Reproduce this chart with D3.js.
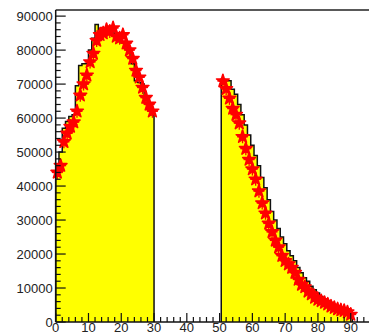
<!DOCTYPE html>
<html>
<head>
<meta charset="utf-8">
<script src="https://cdn.jsdelivr.net/npm/d3@7"></script>
<style>
  body { margin: 0; background: #fff; }
  svg { display: block; }
  text { font-family: "Liberation Sans", Arial, sans-serif; font-size: 13px; fill: #222; }
</style>
</head>
<body>
<svg></svg>
<script>
// Chart size
var width = 369;
var height = 335;

// Histogram (MC) contents, bin width 1
var mcLeftStart = 0;
var mcLeft = [46500, 50000, 57000, 59000, 60500, 61000, 69500, 75500, 76000, 76000,
  80000, 83500, 87500, 85500, 85000, 85500, 85500, 85000, 84000, 82500,
  82000, 81000, 80500, 76000, 71000, 70500, 70000, 66500, 63000, 61000];

var mcRightStart = 50.5;
var mcRight = [71500, 71000, 71000, 68500, 67000, 64000, 61000, 58000, 55000, 52000,
  49000, 46000, 42500, 39500, 36000, 32500, 30000, 27500, 25000, 23000,
  21000, 19500, 18000, 16000, 14500, 13000, 12000, 10500, 9500, 8500,
  7500, 6800, 6000, 5500, 5000, 4500, 4000, 3600, 3200, 2800];

// Data points, one per bin
var dataLeft = [44000, 46000, 53000, 55500, 57500, 58800, 62000, 66700, 70000, 72600,
  76500, 79000, 82800, 84500, 85000, 86000, 85500, 86500, 84000, 83500,
  84500, 82000, 80000, 77500, 74000, 72000, 69000, 66000, 64000, 62000];

var dataRight = [70900, 68600, 65800, 62800, 61000, 58500, 54500, 51000, 47800, 45000,
  42000, 38500, 35000, 32000, 29000, 26500, 24000, 22000, 19500, 18000,
  17000, 16000, 14500, 12500, 11000, 10300, 9000, 8200, 7200, 6600,
  6200, 5700, 5200, 4600, 4200, 3800, 3500, 3300, 2900, 2200];

// Axis ticks
var xLabels = [0, 10, 20, 30, 40, 50, 60, 70, 80, 90];
var yLabels = [0, 10000, 20000, 30000, 40000, 50000, 60000, 70000, 80000, 90000];

var svg = d3.select("svg")
  .attr("width", width)
  .attr("height", height);

var x = d3.scaleLinear().domain([0, 100]).range([55.7, 383.5]);
var y = d3.scaleLinear().domain([0, 91800]).range([322, 10]);

// Build a step outline for a histogram part
function stepPath(start, values) {
  var p = d3.path();
  p.moveTo(x(start), y(0));
  values.forEach(function(v, i) {
    p.lineTo(x(start + i), y(v));
    p.lineTo(x(start + i + 1), y(v));
  });
  p.lineTo(x(start + values.length), y(0));
  return p.toString();
}

[[mcLeftStart, mcLeft], [mcRightStart, mcRight]].forEach(function(part) {
  svg.append("path")
    .attr("d", stepPath(part[0], part[1]))
    .attr("fill", "#ffff00")
    .attr("stroke", "#111")
    .attr("stroke-width", 1.5)
    .attr("stroke-linejoin", "miter");
});

// Data points with small error crosses and star markers
var points = dataLeft.map(function(v, i) { return { x: mcLeftStart + i + 0.5, v: v }; })
  .concat(dataRight.map(function(v, i) { return { x: mcRightStart + i + 0.5, v: v }; }));

var pts = svg.append("g").selectAll("g")
  .data(points)
  .enter()
  .append("g")
  .attr("transform", function(d) { return "translate(" + x(d.x) + "," + y(d.v) + ")"; });

pts.append("line")
  .attr("x1", -5.5).attr("x2", 5.5)
  .attr("stroke", "red").attr("stroke-width", 1.3);
pts.append("line")
  .attr("y1", -6.5).attr("y2", 6.5)
  .attr("stroke", "red").attr("stroke-width", 1.3);
pts.append("path")
  .attr("d", d3.symbol().type(d3.symbolStar).size(50))
  .attr("fill", "red")
  .attr("stroke", "red")
  .attr("stroke-width", 1.6)
  .attr("stroke-linejoin", "round");

// Frame top
svg.append("line")
  .attr("x1", x(0)).attr("x2", width)
  .attr("y1", y.range()[1]).attr("y2", y.range()[1])
  .attr("stroke", "#222").attr("stroke-width", 1.5);

// Y axis: ticks point into the plot
var yAxis = svg.append("g");
yAxis.append("line")
  .attr("x1", x(0)).attr("x2", x(0))
  .attr("y1", y(0)).attr("y2", y.range()[1])
  .attr("stroke", "#111").attr("stroke-width", 1.5);
yAxis.selectAll(".ymin")
  .data(d3.range(0, 91800, 2000))
  .enter()
  .append("line")
  .attr("x1", x(0))
  .attr("x2", function(d) { return x(0) + (d % 10000 === 0 ? 10 : 5); })
  .attr("y1", function(d) { return y(d); })
  .attr("y2", function(d) { return y(d); })
  .attr("stroke", "#111").attr("stroke-width", 1.2);
yAxis.selectAll("text")
  .data(yLabels)
  .enter()
  .append("text")
  .attr("x", x(0) - 3)
  .attr("y", function(d) { return y(d); })
  .attr("dy", "0.36em")
  .attr("text-anchor", "end")
  .text(function(d) { return d; });

// X axis: ticks point up into the plot
var xAxis = svg.append("g");
xAxis.append("line")
  .attr("x1", x(0)).attr("x2", width)
  .attr("y1", y(0)).attr("y2", y(0))
  .attr("stroke", "#111").attr("stroke-width", 1.5);
xAxis.selectAll(".xmin")
  .data(d3.range(0, 100, 2))
  .enter()
  .append("line")
  .attr("x1", function(d) { return x(d); })
  .attr("x2", function(d) { return x(d); })
  .attr("y1", y(0))
  .attr("y2", function(d) { return y(0) - (d % 10 === 0 ? 9 : 5); })
  .attr("stroke", "#111").attr("stroke-width", 1.2);
xAxis.selectAll("text")
  .data(xLabels)
  .enter()
  .append("text")
  .attr("x", function(d) { return x(d); })
  .attr("y", 332)
  .attr("text-anchor", "middle")
  .text(function(d) { return d; });
</script>
</body>
</html>
